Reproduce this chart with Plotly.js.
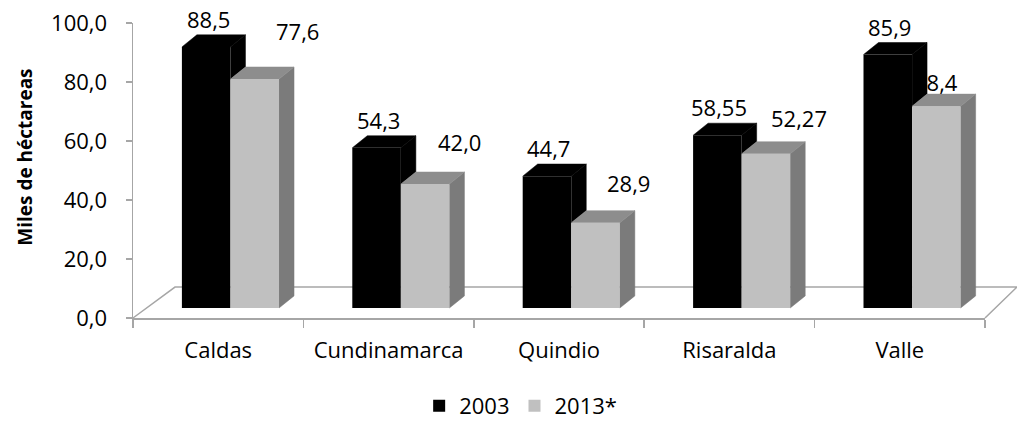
<!DOCTYPE html>
<html>
<head>
<meta charset="utf-8">
<script src="https://cdn.plot.ly/plotly-3.0.1.min.js"></script>
<style>
  body { margin: 0; background: #fff; }
  #plot { width: 1017px; height: 423px; }
</style>
</head>
<body>
<div id="plot"></div>
<script>
// data
var departamentos = ['Caldas', 'Cundinamarca', 'Quindio', 'Risaralda', 'Valle'];
var valores2003 = [88.5, 54.3, 44.7, 58.55, 85.9];
var valores2013 = [77.6, 42.0, 28.9, 52.27, 68.4];
var serie1 = '2003';
var serie2 = '2013*';

// fake 3d geometry (in axis units)
var barW = 0.285;     // front face width
var off1 = -0.213;    // 2003 front face left edge from category centre
var off2 = off1 + barW;
var dx = 0.088;       // depth, x
var dy = 4.1;         // depth, y (units of y2)

// label nudges in px (excel puts the 3d labels a bit everywhere)
var desplX2013 = [43, 34, 33, 33, 0];
var desplY2013 = [48, 42, 40, 36, 24];

function fmt(v) {
    var s = (Math.round(v * 100) % 10 !== 0) ? v.toFixed(2) : v.toFixed(1);
    return s.replace('.', ',');
}

var topNegro = {x: [], y: []}, ladoNegro = {x: [], y: []};
var topGris = {x: [], y: []}, ladoGris = {x: [], y: []};

function poli(obj, pts) {
    pts.forEach(function (p) { obj.x.push(p[0]); obj.y.push(p[1]); });
    obj.x.push(null); obj.y.push(null);
}

departamentos.forEach(function (d, i) {
    var vb = valores2003[i], vg = valores2013[i];
    var a = i + off1, b = a + barW, c = b + barW;
    poli(topNegro, [[a, vb], [a + dx, vb + dy], [b + dx, vb + dy], [b, vb]]);
    poli(ladoNegro, [[b, Math.min(vb, vg)], [b + dx, Math.min(vb, vg) + dy], [b + dx, vb + dy], [b, vb]]);
    poli(topGris, [[b, vg], [b + dx, vg + dy], [c + dx, vg + dy], [c, vg]]);
    poli(ladoGris, [[c, 0], [c + dx, dy], [c + dx, vg + dy], [c, vg]]);
});

function cara(obj, color) {
    return {
        x: obj.x, y: obj.y, xaxis: 'x2', yaxis: 'y2',
        type: 'scatter', mode: 'lines', fill: 'toself',
        fillcolor: color, line: {color: color, width: 0.5},
        showlegend: false, hoverinfo: 'skip'
    };
}

var traces = [
    // empty trace so the tick axis (x, y) gets its subplot
    {
        x: departamentos, y: valores2003, type: 'scatter', mode: 'none',
        showlegend: false, hoverinfo: 'skip'
    },
    {
        x: departamentos, y: valores2003, name: serie1, type: 'bar',
        yaxis: 'y2', width: barW, offset: off1,
        marker: {color: '#000000', line: {width: 0}}
    },
    {
        x: departamentos, y: valores2013, name: serie2, type: 'bar',
        yaxis: 'y2', width: barW, offset: off2,
        marker: {color: '#c0c0c0', line: {width: 0}}
    },
    cara(ladoNegro, '#000000'),
    cara(topNegro, '#000000'),
    cara(ladoGris, '#7b7b7b'),
    cara(topGris, '#8d8d8d')
];

var etiquetas = [];
departamentos.forEach(function (d, i) {
    etiquetas.push({
        x: i + off1 + barW / 2, y: valores2003[i], yshift: 28, xshift: 2,
        xref: 'x2', yref: 'y2', text: fmt(valores2003[i]), showarrow: false,
        font: {size: 22, color: '#000'}
    });
    etiquetas.push({
        x: i + off2 + barW / 2, y: valores2013[i],
        xshift: desplX2013[i], yshift: desplY2013[i],
        xref: 'x2', yref: 'y2', text: fmt(valores2013[i]), showarrow: false,
        font: {size: 22, color: '#000'}
    });
});
etiquetas.push({
    x: -0.127, y: 0.546, xref: 'paper', yref: 'paper',
    xanchor: 'center', yanchor: 'middle',
    text: '<b>Miles de héctareas</b>', textangle: -90, showarrow: false,
    font: {size: 19, color: '#000'}
});

var gris = '#a6a6a6';
var layout = {
    width: 1017, height: 423,
    margin: {l: 133, r: 32, t: 23, b: 105, autoexpand: false},
    paper_bgcolor: '#fff', plot_bgcolor: 'rgba(0,0,0,0)',
    font: {family: '"Open Sans", sans-serif', size: 22, color: '#000'},
    separators: ',.',
    barmode: 'overlay',
    showlegend: true,
    legend: {
        orientation: 'h', x: 0.455, xanchor: 'center', y: -0.298, yanchor: 'middle',
        font: {size: 22}, itemwidth: 30, traceorder: 'normal'
    },
    xaxis: {
        type: 'category', range: [-0.5, 4.5], fixedrange: true,
        showline: true, linecolor: gris, linewidth: 1.5,
        ticks: 'outside', tickson: 'boundaries', ticklen: 8, tickcolor: gris, tickwidth: 1.5,
        showgrid: false, zeroline: false, ticklabelstandoff: 12
    },
    xaxis2: {
        type: 'linear', range: [-0.5, 4.5], overlaying: 'x', anchor: 'y2',
        visible: false, fixedrange: true
    },
    yaxis: {
        visible: true, range: [0, 100], dtick: 20, tickformat: '.1f',
        showline: true, linecolor: gris, linewidth: 1.5,
        ticks: 'outside', ticklen: 6, tickcolor: gris, tickwidth: 1.5,
        showgrid: false, zeroline: false, ticklabelstandoff: 14, fixedrange: true
    },
    yaxis2: {
        range: [-10 / 2.95, 285 / 2.95], overlaying: 'y', anchor: 'x',
        visible: false, fixedrange: true
    },
    shapes: [{
        type: 'path', xref: 'paper', yref: 'paper', layer: 'below',
        path: 'M0,0 L0.0493,0.105 L1.0376,0.105 M1,0 L1.0376,0.105',
        line: {color: gris, width: 1.5}
    }],
    annotations: etiquetas
};

Plotly.newPlot('plot', traces, layout, {displayModeBar: false, staticPlot: true});
</script>
</body>
</html>
